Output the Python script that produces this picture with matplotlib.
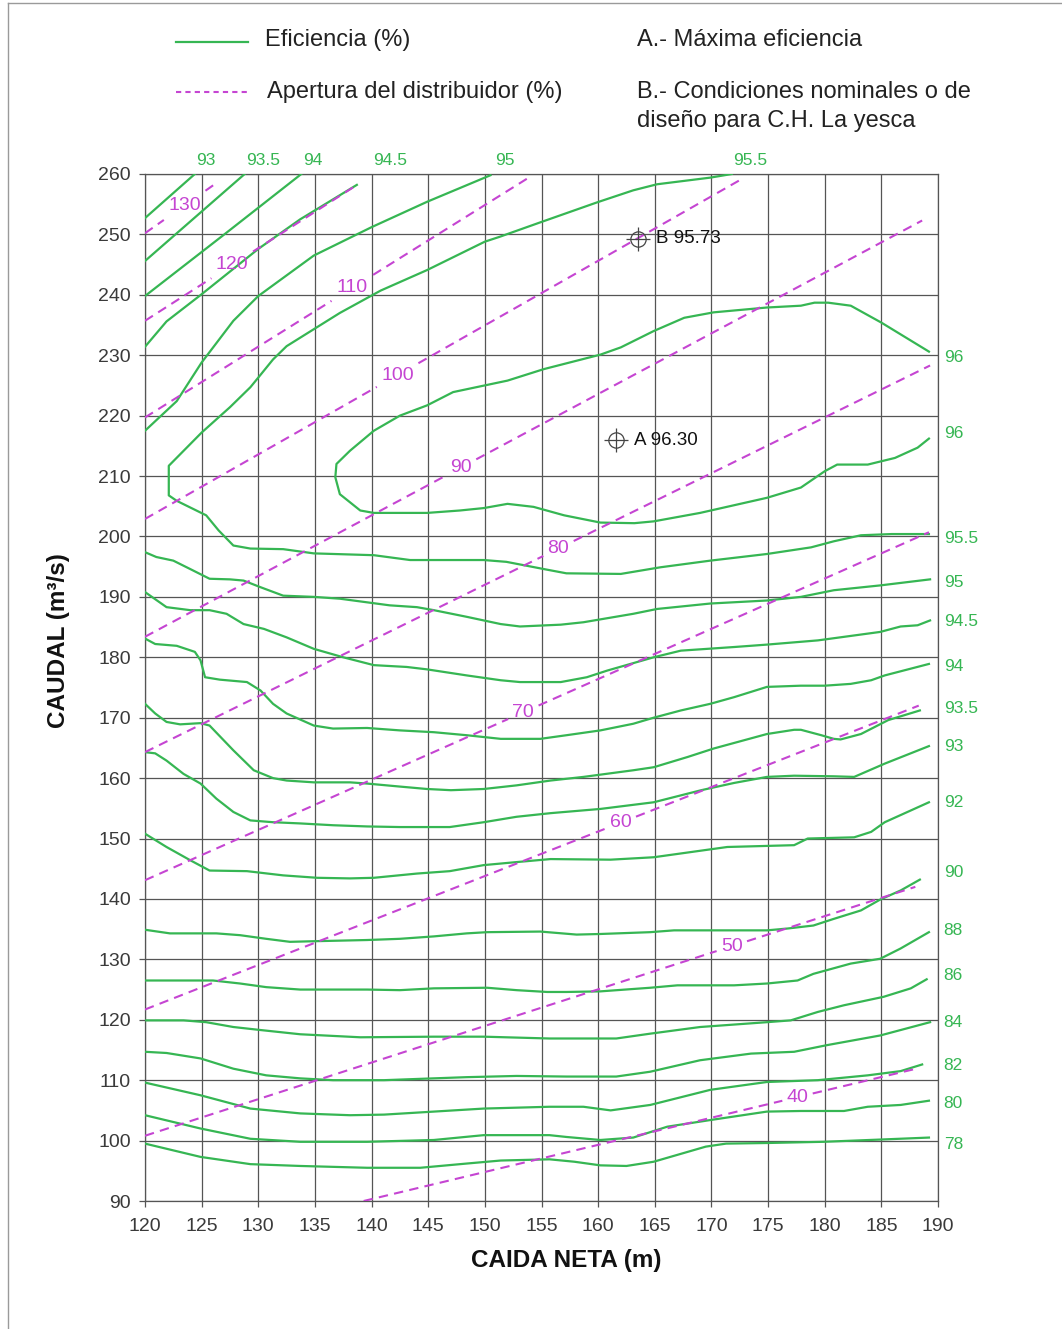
"""Turbine hill chart: efficiency contours and guide-vane opening lines."""

import matplotlib.pyplot as plt
import numpy as np
from matplotlib.lines import Line2D

plt.rcParams["font.family"] = ["Liberation Sans", "DejaVu Sans"]

GREEN = "#36b653"
MAGENTA = "#c545d2"
GRID = "#555555"
TEXT = "#3a3a3a"

# --- efficiency contours (caida neta m, caudal m3/s) ---
eff_93_x = [120, 124.4]
eff_93_y = [252.7, 260]
eff_935_top_x = [120, 128.8]
eff_935_top_y = [245.6, 260]
eff_94_top_x = [120, 127, 133.8]
eff_94_top_y = [239.8, 250, 260]
eff_945_top_x = [120, 121.9, 125, 130, 133.7, 138.7]
eff_945_top_y = [231.4, 235.6, 240.1, 247.6, 252.5, 258.2]
eff_95_top_x = [120, 122.8, 125, 127.8, 130, 134.9, 140, 144.9, 150.5]
eff_95_top_y = [217.5, 222.4, 228.8, 235.7, 239.8, 246.5, 251.2, 255.4, 259.8]

eff_955_x = [171.8, 169.9, 165.2, 163.1, 159.9, 154.9, 151.3, 150, 144.9, 140.8,
             137.2, 132.5, 131.3, 130, 129.3, 127.5, 125, 122.1, 122.1, 122.8,
             125.4, 126.5, 127.8, 129.3, 132.2, 134.9, 140.2, 143.4, 149.9, 151.9,
             155.5, 157.2, 162, 165.5, 169.9, 174.9, 178.8, 180.8, 183.2, 185.9, 189.2]
eff_955_y = [260, 259.4, 258.3, 257.3, 255.3, 252, 249.6, 248.8, 244.1, 240.7,
             237, 231.5, 229.3, 226.3, 224.7, 221.4, 217.2, 211.7, 206.8, 205.9,
             203.5, 201, 198.5, 198, 197.9, 197.2, 196.9, 196.1, 196.1, 195.8,
             194.5, 193.9, 193.8, 194.9, 196, 197.1, 198.2, 199.2, 200.2, 200.4, 200.4]

eff_96_x = [189.2, 185, 182.3, 180.3, 179.1, 177.9, 174.9, 170.2, 167.6, 164.9,
            162, 160.2, 155.2, 152, 147.2, 144.9, 142.5, 140.2, 138.1, 136.9,
            136.8, 137.2, 139, 140.2, 144.9, 147.8, 149.9, 152, 154.3, 157,
            160.2, 163.2, 164.9, 169, 174.9, 177.9, 180, 181.1, 183.8, 186.2,
            188.2, 189.2]
eff_96_y = [230.6, 235.4, 238.2, 238.7, 238.7, 238.2, 237.9, 237.1, 236.2, 234,
            231.3, 230.1, 227.7, 225.8, 223.9, 221.7, 220, 217.5, 214.2, 212,
            209.8, 207, 204.3, 203.9, 203.9, 204.3, 204.7, 205.4, 204.9, 203.5,
            202.3, 202.2, 202.5, 203.9, 206.4, 208.1, 210.8, 211.9, 211.9, 213,
            214.7, 216.2]

eff_95_x = [120, 121, 122.5, 124, 125.7, 127.5, 128.7, 130.2, 132.2, 134.9, 137.2,
            139.6, 141.6, 144, 145.5, 148.4, 151.4, 153.1, 156.7, 158.7, 163.1,
            165.2, 169.9, 174.9, 177.9, 180.8, 184.9, 189.3]
eff_95_y = [197.4, 196.6, 196.0, 194.6, 193.0, 192.9, 192.7, 191.6, 190.2, 190.0,
            189.7, 189.1, 188.6, 188.3, 187.8, 186.7, 185.5, 185.1, 185.4, 185.8,
            187.2, 188.0, 188.9, 189.4, 190.0, 191.1, 191.9, 192.9]

eff_945_x = [120, 121.9, 124, 125.7, 127.2, 128.7, 130.5, 132.5, 134.9, 137.5,
             140.2, 143.1, 144.9, 148.4, 151.4, 153.1, 156.7, 159, 160.8, 164.9,
             167.3, 172, 174.9, 179.4, 184.9, 186.7, 188.2, 189.3]
eff_945_y = [190.8, 188.3, 187.8, 187.8, 187.2, 185.5, 184.7, 183.3, 181.4, 180.0,
             178.7, 178.4, 178.0, 177.0, 176.2, 175.9, 175.9, 176.7, 177.8, 180.0,
             181.1, 181.7, 182.1, 182.8, 184.2, 185.1, 185.3, 186.1]

eff_94_x = [120, 120.9, 122.8, 124.4, 124.9, 125.3, 126.6, 129, 130.2, 131.3, 132.5,
            134.9, 136.6, 139.6, 142.5, 145.5, 148.4, 151.4, 154.9, 157.2, 160.2,
            163.1, 164.9, 167.3, 169.9, 172, 174.9, 177.9, 180, 182.3, 184.1,
            185.3, 189.2]
eff_94_y = [183.1, 182.2, 181.9, 180.9, 179.5, 176.7, 176.3, 175.9, 174.5, 172.3,
            170.7, 168.7, 168.2, 168.3, 167.9, 167.6, 167.1, 166.5, 166.5, 167.1,
            167.9, 169.0, 170.0, 171.2, 172.3, 173.4, 175.1, 175.3, 175.3, 175.6,
            176.2, 177.0, 178.9]

eff_935_x = [120, 120.9, 121.9, 123.1, 124.9, 125.7, 127.8, 129.6, 131.3, 132.5,
             134.9, 138.1, 139.6, 142.5, 144.9, 147, 149.9, 152.8, 155.8, 158.7,
             163.1, 164.9, 167.9, 170.2, 174.9, 177.3, 177.9, 179.7, 180.8, 181.4,
             183.2, 185.6, 188.4]
eff_935_y = [172.3, 170.7, 169.3, 168.9, 169.1, 168.7, 164.6, 161.3, 160.0, 159.6,
             159.3, 159.3, 159.1, 158.6, 158.2, 158.0, 158.2, 158.8, 159.6, 160.2,
             161.3, 161.8, 163.5, 164.9, 167.3, 168.0, 168.0, 167.1, 166.5, 166.4,
             167.3, 169.6, 171.2]

eff_93_low_x = [120, 120.9, 121.9, 123.4, 124.9, 126.3, 127.8, 129.3, 131.3, 133.7,
                136.6, 139.6, 142.5, 146.9, 149.9, 152.8, 155.8, 160.2, 164.9, 169.1,
                172, 174.9, 177.3, 180.8, 182.6, 185.3, 189.2]
eff_93_low_y = [164.3, 164.1, 162.9, 160.7, 159.1, 156.6, 154.4, 153.0, 152.7, 152.5,
                152.2, 152.0, 151.9, 151.9, 152.7, 153.6, 154.2, 154.9, 156.0, 158.0,
                159.2, 160.2, 160.4, 160.3, 160.2, 162.4, 165.3]

eff_92_x = [120, 121.9, 124, 125.7, 129, 132.2, 135.2, 138.1, 140.2, 144, 146.9,
            149.9, 152.8, 155.8, 161.1, 164.9, 171.4, 177.3, 178.5, 182.6, 184.1,
            185.3, 189.2]
eff_92_y = [150.8, 148.6, 146.4, 144.7, 144.6, 143.9, 143.5, 143.4, 143.5, 144.2,
            144.6, 145.6, 146.1, 146.6, 146.5, 146.9, 148.6, 148.9, 150.0, 150.2,
            151.1, 152.7, 156.0]

eff_90_x = [120, 122.2, 126.3, 128.4, 130.7, 132.8, 134.9, 139.6, 142.5, 145.5,
            148.4, 150.2, 154.9, 158.1, 160.2, 164.6, 166.7, 174.9, 176.7, 179,
            180.8, 183.2, 184.9, 186.7, 188.4]
eff_90_y = [134.9, 134.3, 134.3, 134.0, 133.4, 132.9, 133.0, 133.2, 133.4, 133.8,
            134.3, 134.5, 134.6, 134.1, 134.2, 134.5, 134.8, 134.8, 135.1, 135.6,
            136.7, 138.1, 139.9, 141.4, 143.2]

eff_88_x = [120, 126, 128.4, 130.7, 133.7, 139.6, 142.5, 145.5, 150.2, 152.8, 155.5,
            157.2, 160.2, 164.6, 167, 172, 174.9, 177.6, 179, 182.3, 184.9, 186.7,
            189.2]
eff_88_y = [126.5, 126.5, 126.0, 125.4, 125.0, 125.0, 124.9, 125.2, 125.3, 124.9,
            124.6, 124.6, 124.7, 125.3, 125.7, 125.7, 126.0, 126.5, 127.6, 129.3,
            130.1, 131.8, 134.5]

eff_86_x = [120, 123.4, 125.4, 127.8, 130.2, 133.7, 139, 145.5, 149.9, 155.7, 161.6,
            164.6, 169, 174.9, 177, 179.4, 181.7, 185.2, 187.6, 189]
eff_86_y = [119.9, 119.9, 119.6, 118.8, 118.3, 117.6, 117.1, 117.2, 117.2, 116.9,
            116.9, 117.7, 118.8, 119.6, 119.9, 121.3, 122.4, 123.8, 125.2, 126.7]

eff_84_x = [120, 121.9, 124.9, 127.8, 130.7, 133.7, 136.6, 141.1, 144, 148.4, 152.8,
            157.2, 161.6, 164.6, 169, 173.5, 177.3, 180.2, 184.9, 189.3]
eff_84_y = [114.7, 114.5, 113.6, 111.9, 110.8, 110.3, 110.0, 110.0, 110.2, 110.5,
            110.7, 110.6, 110.6, 111.4, 113.3, 114.4, 114.7, 115.8, 117.4, 119.6]

eff_82_x = [120, 124.9, 129.3, 133.7, 138.1, 141.1, 145.5, 149.9, 155.7, 158.7,
            161.1, 164.6, 169.9, 174.9, 179.4, 183.8, 186.7, 188.6]
eff_82_y = [109.6, 107.5, 105.3, 104.5, 104.2, 104.3, 104.8, 105.3, 105.6, 105.6,
            105.0, 105.9, 108.4, 109.7, 110.0, 110.8, 111.5, 112.6]

eff_80_x = [120, 124.9, 129.3, 133.7, 139.6, 145.5, 149.9, 155.7, 157.2, 160.2,
            163.1, 166.1, 169.9, 174.9, 177.9, 181.7, 183.8, 186.7, 189.2]
eff_80_y = [104.2, 102.0, 100.3, 99.8, 99.8, 100.1, 100.9, 100.9, 100.6, 100.1,
            100.5, 102.3, 103.4, 104.8, 104.9, 104.9, 105.6, 105.9, 106.6]

eff_78_x = [120, 124.9, 129.3, 133.7, 139.6, 144.3, 148.4, 151.4, 155.7, 157.9,
            160.2, 162.5, 164.9, 169.5, 171.3, 174.9, 179.9, 185.3, 189.2]
eff_78_y = [99.5, 97.3, 96.1, 95.8, 95.5, 95.5, 96.2, 96.7, 96.9, 96.5, 95.9,
            95.8, 96.5, 99.0, 99.5, 99.6, 99.8, 100.2, 100.5]

# --- guide-vane opening lines (straight, from start to end point) ---
apertura = [130, 120, 110, 100, 90, 80, 70, 60, 50, 40]
ap_x0 = [120, 120, 120, 120, 120, 120, 120, 120, 120, 139.3]
ap_y0 = [250.2, 235.7, 219.7, 202.9, 183.4, 164.3, 143.1, 121.7, 100.8, 90.0]
ap_x1 = [126.3, 138.8, 153.7, 172.8, 188.6, 189.3, 189.2, 188.3, 188.0, 188.3]
ap_y1 = [258.5, 258.3, 259.2, 259.3, 252.3, 228.3, 200.7, 172.0, 142.0, 112.0]

# --- reference points ---
punto_nombre = ["A", "B"]
punto_caida = [161.6, 163.5]
punto_caudal = [215.9, 249.3]
punto_eficiencia = [96.30, 95.73]

fig = plt.figure(figsize=(10.62, 13.29), dpi=100)
ax = fig.add_axes([145 / 1062, 1 - 1201 / 1329, 793 / 1062, 1027 / 1329])

ax.set_xlim(120, 190)
ax.set_ylim(90, 260)
ax.set_xticks(np.arange(120, 191, 5))
ax.set_yticks(np.arange(90, 261, 10))
ax.grid(True, color=GRID, lw=0.9)
ax.set_axisbelow(True)
for sp in ax.spines.values():
    sp.set_color(GRID)
    sp.set_linewidth(0.9)
ax.tick_params(axis="both", colors=GRID, labelcolor=TEXT, labelsize=14,
               length=4, width=0.9)
ax.tick_params(axis="x", pad=8)
ax.tick_params(axis="y", pad=6)

# efficiency contours
curvas = [
    (eff_93_x, eff_93_y), (eff_935_top_x, eff_935_top_y),
    (eff_94_top_x, eff_94_top_y), (eff_945_top_x, eff_945_top_y),
    (eff_95_top_x, eff_95_top_y), (eff_955_x, eff_955_y), (eff_96_x, eff_96_y),
    (eff_95_x, eff_95_y), (eff_945_x, eff_945_y), (eff_94_x, eff_94_y),
    (eff_935_x, eff_935_y), (eff_93_low_x, eff_93_low_y), (eff_92_x, eff_92_y),
    (eff_90_x, eff_90_y), (eff_88_x, eff_88_y), (eff_86_x, eff_86_y),
    (eff_84_x, eff_84_y), (eff_82_x, eff_82_y), (eff_80_x, eff_80_y),
    (eff_78_x, eff_78_y),
]
for cx, cy in curvas:
    ax.plot(cx, cy, color=GREEN, lw=1.6, solid_joinstyle="round", zorder=3)

# contour labels along the top edge and the right edge
etiquetas_arriba = [("93", 125.4), ("93.5", 130.4), ("94", 134.8),
                    ("94.5", 141.6), ("95", 151.8), ("95.5", 173.4)]
for txt, xv in etiquetas_arriba:
    ax.text(xv, 262.3, txt, color=GREEN, fontsize=12.5, ha="center", va="center")

etiquetas_derecha = [("96", 229.6), ("96", 217.0), ("95.5", 199.7), ("95", 192.4),
                     ("94.5", 185.9), ("94", 178.5), ("93.5", 171.5), ("93", 165.2),
                     ("92", 156.0), ("90", 144.4), ("88", 134.8), ("86", 127.4),
                     ("84", 119.6), ("82", 112.5), ("80", 106.2), ("78", 99.3)]
for txt, yv in etiquetas_derecha:
    ax.text(190.5, yv, txt, color=GREEN, fontsize=12.5, ha="left", va="center")

# opening lines, broken where the label sits
pos_etiqueta = [123.5, 127.7, 138.3, 142.3, 147.9, 156.5, 153.4, 162.0, 171.8, 177.6]
px_por_m = 793 / 70
for ap, x0, y0, x1, y1, lx in zip(apertura, ap_x0, ap_y0, ap_x1, ap_y1, pos_etiqueta):
    txt = str(ap)
    gap = (5.6 * len(txt) + 4) / px_por_m
    ly = np.interp(lx, [x0, x1], [y0, y1])
    for a, b in ((x0, lx - gap), (lx + gap, x1)):
        ax.plot([a, b], np.interp([a, b], [x0, x1], [y0, y1]), color=MAGENTA,
                lw=1.5, dashes=(4.5, 3), zorder=4)
    ax.text(lx, ly, txt, color=MAGENTA, fontsize=14, ha="center", va="center",
            zorder=5)

# reference points
for nom, px, py, ef in zip(punto_nombre, punto_caida, punto_caudal, punto_eficiencia):
    ax.plot(px, py, marker="o", ms=11, mfc="none", mec="#444444", mew=0.9, zorder=6)
    ax.plot(px, py, marker="+", ms=17, mec="#444444", mew=0.9, zorder=6)
    ax.annotate(f"{nom} {ef:.2f}", (px, py), xytext=(13, 0),
                textcoords="offset points", va="center", ha="left",
                fontsize=13.5, color="#111111", zorder=6)

ax.set_xlabel("CAIDA NETA (m)", fontsize=17.5, fontweight="bold", color="#111111")
ax.set_ylabel("CAUDAL (m³/s)", fontsize=17.5, fontweight="bold", color="#111111")
ax.xaxis.set_label_coords((566 - 145) / 793, -(1249 - 1201) / 1027)
ax.yaxis.set_label_coords(-(145 - 70) / 793, (1201 - 641) / 1027)

# legend block above the plot
fig.add_artist(Line2D([176 / 1062, 248 / 1062], [1 - 42 / 1329] * 2,
                      color=GREEN, lw=1.6))
fig.add_artist(Line2D([176 / 1062, 248 / 1062], [1 - 92 / 1329] * 2,
                      color=MAGENTA, lw=1.5, dashes=(2.5, 2)))
fig.text(265 / 1062, 1 - 40 / 1329, "Eficiencia (%)", fontsize=17,
         color="#222222", va="center")
fig.text(267 / 1062, 1 - 92 / 1329, "Apertura del distribuidor (%)", fontsize=17,
         color="#222222", va="center")
fig.text(637 / 1062, 1 - 40 / 1329, "A.- Máxima eficiencia", fontsize=17,
         color="#222222", va="center")
fig.text(637 / 1062, 1 - 92 / 1329, "B.- Condiciones nominales o de", fontsize=17,
         color="#222222", va="center")
fig.text(637 / 1062, 1 - 121 / 1329, "diseño para C.H. La yesca", fontsize=17,
         color="#222222", va="center")

# page frame on the left and top
fig.add_artist(Line2D([8 / 1062, 8 / 1062], [0, 1 - 3 / 1329], color="#9a9a9a", lw=1))
fig.add_artist(Line2D([8 / 1062, 1], [1 - 3 / 1329] * 2, color="#9a9a9a", lw=1))

fig.savefig("out.png", dpi=100)
